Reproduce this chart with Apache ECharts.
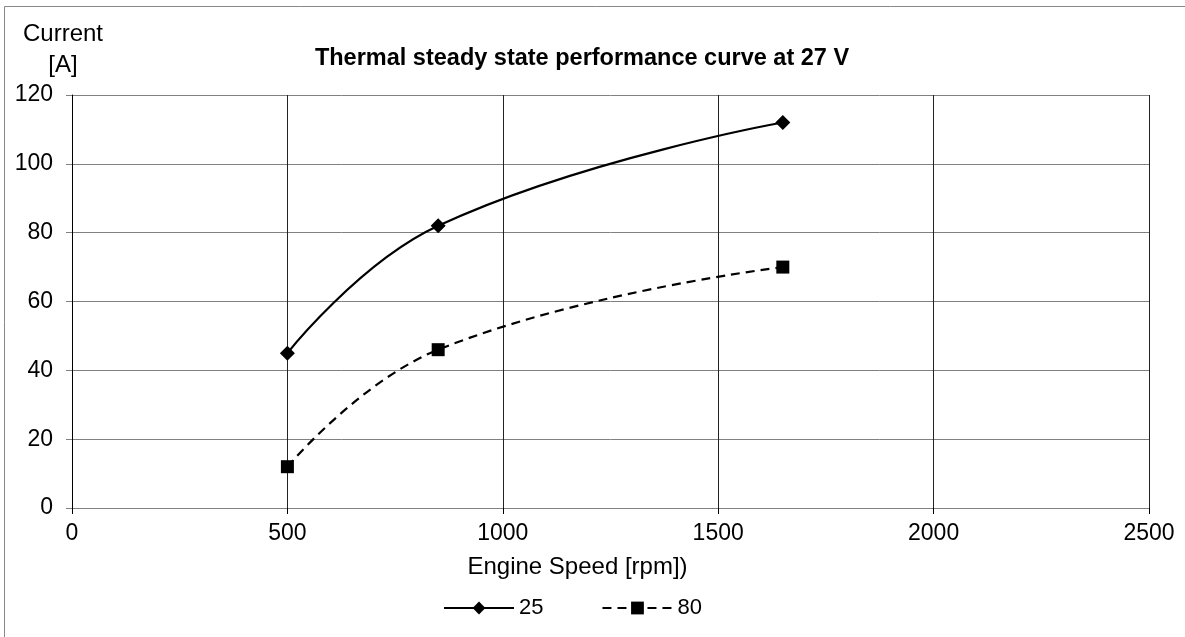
<!DOCTYPE html>
<html>
<head>
<meta charset="utf-8">
<script src="https://cdn.jsdelivr.net/npm/echarts@6/dist/echarts.min.js"></script>
<style>
  html, body { margin: 0; padding: 0; background: #fff; }
  #chart { width: 1185px; height: 637px; }
</style>
</head>
<body>
<div id="chart"></div>
<script>
const speed25 = [500, 850, 1650];
const current25 = [45, 82, 112];
const speed80 = [500, 850, 1650];
const current80 = [12, 46, 70];

const font = "'Liberation Sans', Arial, sans-serif";

const chart = echarts.init(document.getElementById("chart"));

chart.setOption({
  animation: false,
  backgroundColor: "#fff",
  textStyle: { fontFamily: font, color: "#000" },
  title: {
    text: "Thermal steady state performance curve at 27 V",
    left: 577,
    top: 42,
    textAlign: "center",
    textStyle: { fontFamily: font, fontSize: 23.5, fontWeight: "bold", color: "#000" },
  },
  graphic: [
    {
      type: "rect",
      shape: { x: 4.5, y: 6.5, width: 1200, height: 700 },
      style: { fill: "none", stroke: "#888", lineWidth: 1 },
      silent: true,
    },
    {
      type: "text",
      x: 63,
      y: 50,
      style: {
        text: "Current\n[A]",
        align: "center",
        verticalAlign: "middle",
        fontFamily: font,
        fontSize: 24,
        lineHeight: 31,
        fill: "#000",
      },
      silent: true,
    },
  ],
  grid: { left: 72, right: 36, top: 95, bottom: 129, containLabel: false },
  legend: {
    bottom: 13,
    left: 438,
    itemWidth: 70,
    itemHeight: 16,
    itemGap: 58,
    textStyle: { fontFamily: font, fontSize: 22, color: "#000" },
    data: ["25", "80"],
  },
  xAxis: {
    type: "value",
    min: 0,
    max: 2500,
    interval: 500,
    name: "Engine Speed [rpm])",
    nameLocation: "middle",
    nameGap: 47,
    nameTextStyle: { fontFamily: font, fontSize: 24, color: "#000", padding: [0, 66, 0, 0] },
    axisLine: { show: true, lineStyle: { color: "#808080", width: 1 } },
    axisTick: { show: true, inside: false, length: 6, lineStyle: { color: "#000" } },
    axisLabel: { fontFamily: font, fontSize: 23, color: "#000", margin: 14, formatter: (v) => String(v) },
    splitLine: { show: true, lineStyle: { color: "#222", width: 1 } },
  },
  yAxis: {
    type: "value",
    min: 0,
    max: 120,
    interval: 20,
    axisLine: { show: true, lineStyle: { color: "#000", width: 1 } },
    axisTick: { show: true, inside: false, length: 6, lineStyle: { color: "#808080" } },
    axisLabel: { fontFamily: font, fontSize: 23, color: "#000", margin: 19, formatter: (v) => String(v) },
    splitLine: { show: true, lineStyle: { color: "#808080", width: 1 } },
  },
  series: [
    {
      name: "25",
      type: "line",
      smooth: 0.45,
      data: speed25.map((x, i) => [x, current25[i]]),
      symbol: "diamond",
      symbolSize: 15,
      lineStyle: { color: "#000", width: 2.2 },
      itemStyle: { color: "#000" },
    },
    {
      name: "80",
      type: "line",
      smooth: 0.45,
      data: speed80.map((x, i) => [x, current80[i]]),
      symbol: "rect",
      symbolSize: 13,
      lineStyle: { color: "#000", width: 2.2, type: [9, 6] },
      itemStyle: { color: "#000" },
    },
  ],
});
</script>
</body>
</html>
